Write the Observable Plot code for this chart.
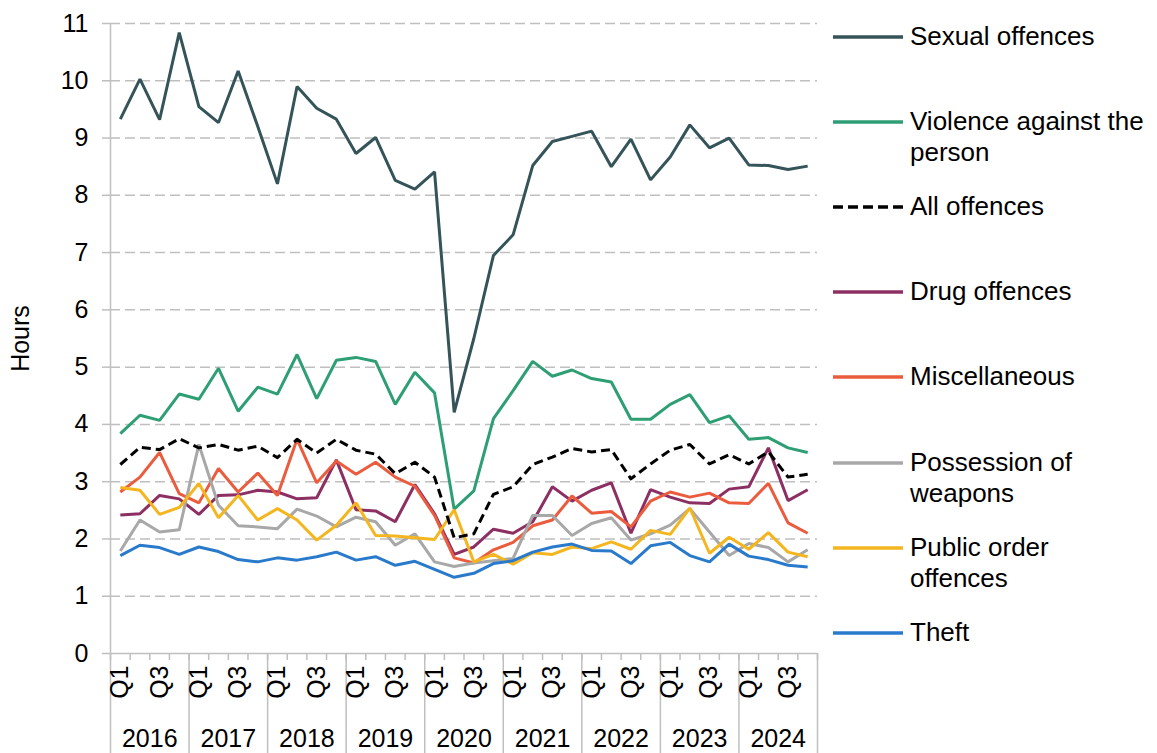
<!DOCTYPE html>
<html>
<head>
<meta charset="utf-8">
<script src="https://cdn.jsdelivr.net/npm/d3@7"></script>
<script src="https://cdn.jsdelivr.net/npm/@observablehq/plot@0.6"></script>
<style>
  html, body { margin: 0; padding: 0; background: #fff; }
  #wrap { position: relative; width: 1157px; height: 753px; overflow: hidden;
          font-family: "Liberation Sans", Arial, Helvetica, sans-serif; color: #000; }
  #chart { position: absolute; left: 0; top: 0; }
  .item { position: absolute; left: 833px; display: flex; align-items: flex-start;
          font-size: 26px; line-height: 31px; white-space: nowrap; }
  .item svg { flex: none; margin-top: 13px; }
  .item span { margin-left: 7px; }
</style>
</head>
<body>
<div id="wrap"><div id="chart"></div><div id="legend"></div></div>
<script>
// ---------- data ----------
const quarterLabels = ["Q1", "Q2", "Q3", "Q4"];
const years = [2016, 2017, 2018, 2019, 2020, 2021, 2022, 2023, 2024];
const yTicks = [0, 1, 2, 3, 4, 5, 6, 7, 8, 9, 10, 11];

const seriesNames = ["Sexual offences", "Violence against the person", "All offences",
  "Drug offences", "Miscellaneous", "Possession of weapons", "Public order offences", "Theft"];
const legendLabels = ["Sexual offences", "Violence against the<br>person", "All offences",
  "Drug offences", "Miscellaneous", "Possession of<br>weapons", "Public order<br>offences", "Theft"];
const seriesColors = ["#345459", "#2e9e74", "#000000", "#8c2f62", "#eb5c3e", "#a8a8a8", "#f4b51f", "#2a7acb"];

const sexualOffences = [9.33, 10.03, 9.32, 10.84, 9.55, 9.27, 10.17, 9.2, 8.2, 9.9, 9.52, 9.33,
  8.73, 9.01, 8.26, 8.11, 8.41, 4.21, 5.5, 6.95, 7.31, 8.52, 8.94, 9.03,
  9.12, 8.5, 8.98, 8.27, 8.67, 9.23, 8.83, 9.0, 8.53, 8.52, 8.45, 8.51];
const violence = [3.84, 4.16, 4.07, 4.53, 4.44, 4.98, 4.23, 4.65, 4.53, 5.22, 4.45, 5.12,
  5.17, 5.1, 4.35, 4.91, 4.55, 2.52, 2.84, 4.1, 4.59, 5.1, 4.84, 4.95,
  4.8, 4.74, 4.09, 4.09, 4.35, 4.52, 4.03, 4.15, 3.74, 3.77, 3.59, 3.51];
const allOffences = [3.3, 3.6, 3.56, 3.75, 3.59, 3.65, 3.55, 3.62, 3.42, 3.74, 3.5, 3.74,
  3.55, 3.48, 3.14, 3.34, 3.08, 2.02, 2.09, 2.78, 2.91, 3.3, 3.43, 3.58,
  3.52, 3.56, 3.05, 3.31, 3.55, 3.65, 3.31, 3.47, 3.31, 3.52, 3.08, 3.13];
const drugOffences = [2.42, 2.44, 2.76, 2.7, 2.43, 2.76, 2.77, 2.85, 2.82, 2.7, 2.72, 3.38,
  2.51, 2.49, 2.3, 2.95, 2.44, 1.73, 1.86, 2.17, 2.1, 2.3, 2.91, 2.66,
  2.85, 2.98, 2.1, 2.86, 2.73, 2.63, 2.62, 2.87, 2.91, 3.59, 2.67, 2.86];
const miscellaneous = [2.82, 3.08, 3.51, 2.79, 2.63, 3.23, 2.82, 3.15, 2.76, 3.74, 2.98, 3.36,
  3.13, 3.34, 3.08, 2.92, 2.41, 1.67, 1.58, 1.81, 1.94, 2.23, 2.33, 2.75,
  2.45, 2.48, 2.21, 2.66, 2.82, 2.73, 2.8, 2.63, 2.62, 2.97, 2.28, 2.1];
const possession = [1.79, 2.33, 2.12, 2.16, 3.65, 2.59, 2.23, 2.21, 2.18, 2.52, 2.4, 2.21,
  2.38, 2.3, 1.89, 2.09, 1.6, 1.52, 1.58, 1.62, 1.66, 2.41, 2.41, 2.06,
  2.27, 2.37, 1.98, 2.09, 2.24, 2.53, 2.12, 1.71, 1.92, 1.85, 1.6, 1.81];
const publicOrder = [2.9, 2.85, 2.43, 2.55, 2.97, 2.37, 2.76, 2.33, 2.53, 2.33, 1.98, 2.24,
  2.63, 2.06, 2.05, 2.02, 1.99, 2.51, 1.6, 1.73, 1.56, 1.76, 1.73, 1.86,
  1.83, 1.95, 1.82, 2.15, 2.08, 2.54, 1.75, 2.03, 1.82, 2.11, 1.77, 1.69];
const theft = [1.71, 1.89, 1.85, 1.73, 1.86, 1.78, 1.64, 1.6, 1.67, 1.63, 1.69, 1.77,
  1.63, 1.69, 1.54, 1.61, 1.47, 1.33, 1.4, 1.57, 1.62, 1.77, 1.86, 1.91,
  1.8, 1.79, 1.57, 1.88, 1.94, 1.71, 1.6, 1.91, 1.7, 1.64, 1.54, 1.51];

const seriesValues = [sexualOffences, violence, allOffences, drugOffences,
  miscellaneous, possession, publicOrder, theft];

// ---------- build table ----------
const rows = [];
seriesNames.forEach((name, s) => {
  seriesValues[s].forEach((v, i) => rows.push({series: name, idx: i, value: v}));
});
const solidRows = rows.filter(d => d.series !== "All offences");
const dashedRows = rows.filter(d => d.series === "All offences");
const nQ = years.length * 4;

const grey = "#bfbfbf";
const chart = Plot.plot({
  width: 830,
  height: 753,
  marginLeft: 110,
  marginRight: 13,
  marginTop: 23,
  marginBottom: 100,
  style: {fontFamily: '"Liberation Sans", Arial, Helvetica, sans-serif', fontSize: "25px",
          color: "#000", background: "transparent", overflow: "visible"},
  x: {type: "linear", domain: [-0.5, nQ - 0.5]},
  y: {domain: [0, 11]},
  color: {domain: seriesNames, range: seriesColors},
  marks: [
    Plot.gridY(yTicks.slice(1), {stroke: grey, strokeOpacity: 1, strokeWidth: 1.5, strokeDasharray: "10,5"}),
    Plot.axisY(yTicks, {tickSize: 8, tickPadding: 14, stroke: grey, strokeOpacity: 1, strokeWidth: 1.5,
      tickFormat: d => String(d), fontSize: 25,
      label: "Hours", labelAnchor: "center", labelOffset: 99, labelArrow: "none"}),
    Plot.ruleX([-0.5], {y1: 0, y2: 11, stroke: grey, strokeWidth: 1.5}),
    Plot.ruleY([0], {stroke: grey, strokeWidth: 1.5}),
    Plot.axisX(d3.range(nQ + 1).map(i => i - 0.5), {tickSize: 7, tickFormat: () => "", stroke: grey,
      strokeOpacity: 1, strokeWidth: 1.5, label: null}),
    Plot.axisX(d3.range(years.length + 1).map(k => 4 * k - 0.5), {tickSize: 100, tickFormat: () => "",
      stroke: grey, strokeOpacity: 1, strokeWidth: 1.5, label: null}),
    Plot.axisX(d3.range(nQ).filter(i => i % 2 === 0), {tickSize: 0, tickPadding: 12, tickRotate: -90,
      tickFormat: i => quarterLabels[i % 4], fontSize: 25, label: null}),
    Plot.axisX(years.map((y, k) => 4 * k + 1.5), {tickSize: 0, tickPadding: 76,
      tickFormat: v => String(years[Math.round((v - 1.5) / 4)]), fontSize: 25, label: null}),
    Plot.line(solidRows, {x: "idx", y: "value", z: "series", stroke: "series", strokeWidth: 3,
      strokeLinejoin: "miter", strokeLinecap: "butt"}),
    Plot.line(dashedRows, {x: "idx", y: "value", stroke: "series", strokeWidth: 3, strokeDasharray: "9,5",
      strokeLinecap: "butt"})
  ]
});
document.getElementById("chart").appendChild(chart);

// ---------- legend ----------
const legendTops = [36, 121, 206, 291, 376, 462, 547, 632];
const legend = document.getElementById("legend");
seriesNames.forEach((name, s) => {
  const item = document.createElement("div");
  item.className = "item";
  item.style.top = (legendTops[s] - 15.5) + "px";
  const dashed = name === "All offences";
  item.innerHTML = `<svg width="70" height="6"><line x1="0" x2="70" y1="3" y2="3" stroke="${seriesColors[s]}"
    stroke-width="3.5" ${dashed ? 'stroke-dasharray="10,5"' : ""}/></svg><span>${legendLabels[s]}</span>`;
  legend.appendChild(item);
});
</script>
</body>
</html>
